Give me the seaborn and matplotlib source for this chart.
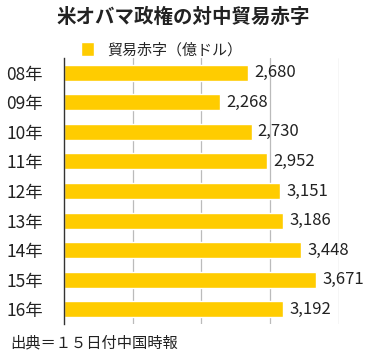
import seaborn as sns
import matplotlib.pyplot as plt
import pandas as pd

sns.set_theme(style="white")
plt.rcParams['font.family'] = ['Noto Sans CJK JP', 'DejaVu Sans']

years = ["08年", "09年", "10年", "11年", "12年", "13年", "14年", "15年", "16年"]
deficit = [2680, 2268, 2730, 2952, 3151, 3186, 3448, 3671, 3192]
series_name = "貿易赤字（億ドル）"

df = pd.DataFrame({"year": years, "value": deficit})

fig = plt.figure(figsize=(3.74, 3.62), dpi=100)
ax = fig.add_axes([0.171, 0.105, 0.735, 0.735])

sns.barplot(data=df, x="value", y="year", color="#FFCC00", saturation=1,
            width=0.54, ax=ax, label=series_name)

ax.set_xlim(0, 4000)
ax.set_ylim(8.5, -0.5)
ax.set_xticks([1000, 2000, 3000, 4000])
ax.set_xticklabels([])
ax.xaxis.grid(True, color="#bbbbbb", linewidth=0.9)
ax.set_axisbelow(True)
ax.set_xlabel("")
ax.set_ylabel("")
ax.tick_params(axis="y", labelsize=12.5, length=0, pad=15, colors="#222222")
ax.tick_params(axis="x", length=0)
for s in ["top", "right", "bottom"]:
    ax.spines[s].set_visible(False)
ax.spines["left"].set_color("#333333")
ax.spines["left"].set_linewidth(1)

for i, v in enumerate(deficit):
    ax.text(v + 90, i, f"{v:,}", va="center", ha="left", fontsize=12,
            color="#222222", clip_on=False)

leg = ax.legend(loc="lower left", bbox_to_anchor=(0.04, 0.98), frameon=False,
                fontsize=10.8, handlelength=0.85, handleheight=1.1,
                handletextpad=0.9, borderaxespad=0)

fig.text(0.49, 0.953, "米オバマ政権の対中貿易赤字", ha="center", va="center",
         fontsize=14, fontweight="bold", color="#222222")
fig.text(0.027, 0.052, "出典＝１５日付中国時報", ha="left", va="center",
         fontsize=11, color="#222222")

fig.savefig("out.png", dpi=100)
plt.close(fig)
